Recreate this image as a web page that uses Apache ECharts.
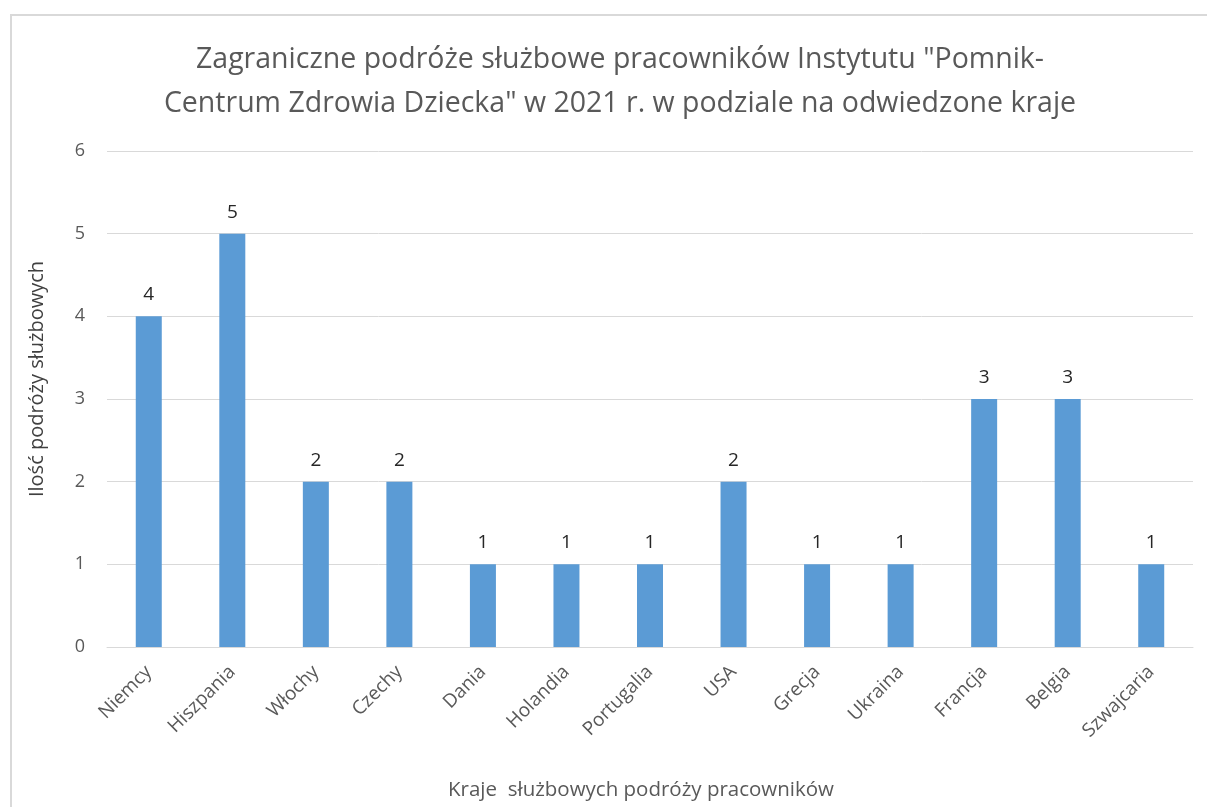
<!DOCTYPE html>
<html>
<head>
<meta charset="utf-8">
<script src="https://cdn.jsdelivr.net/npm/echarts@6/dist/echarts.min.js"></script>
<style>
html,body{margin:0;padding:0;background:#fff;}
#frame{position:absolute;left:10px;top:14px;width:1300px;height:900px;border-top:2px solid #d9d9d9;border-left:2px solid #d9d9d9;}
#chart{position:absolute;left:0;top:0;width:1207px;height:807px;}
</style>
</head>
<body>
<div id="frame"></div>
<div id="chart"></div>
<script>
const titleText = 'Zagraniczne podróże służbowe pracowników Instytutu "Pomnik-\nCentrum Zdrowia Dziecka" w 2021 r. w podziale na odwiedzone kraje';
const categories = ['Niemcy','Hiszpania','Włochy','Czechy','Dania','Holandia','Portugalia','USA','Grecja','Ukraina','Francja','Belgia','Szwajcaria'];
const values = [4,5,2,2,1,1,1,2,1,1,3,3,1];
const yAxisName = 'Ilość podróży służbowych';
const xAxisName = 'Kraje  służbowych podróży pracowników';

const font = '"Open Sans", "Noto Sans", sans-serif';
const chart = echarts.init(document.getElementById('chart'), null, {renderer:'canvas'});
chart.setOption({
  backgroundColor: 'transparent',
  animation: false,
  title: {
    text: titleText,
    left: 615, top: 33, textAlign: 'center',
    textStyle: {fontFamily: font, fontSize: 28.5, fontWeight: 'normal', color: '#595959', lineHeight: 44}
  },
  grid: {left: 107, right: 14, top: 151, bottom: 160, containLabel: false},
  xAxis: {
    type: 'category', data: categories,
    name: xAxisName, nameLocation: 'middle', nameGap: 133,
    nameTextStyle: {fontFamily: font, fontSize: 20.5, color: '#595959', padding: [0, 18, 0, 0]},
    axisLine: {lineStyle: {color: '#d9d9d9', width: 1}},
    axisTick: {show: false},
    axisLabel: {rotate: 45, interval: 0, fontFamily: font, fontSize: 19, color: '#595959', margin: 22}
  },
  yAxis: {
    type: 'value', min: 0, max: 6, interval: 1,
    name: yAxisName, nameLocation: 'middle', nameGap: 60,
    nameTextStyle: {fontFamily: font, fontSize: 20, color: '#404040', padding: [0, 0, 0, 40]},
    axisLine: {show: false}, axisTick: {show: false},
    axisLabel: {fontFamily: font, fontSize: 18, color: '#595959', margin: 22},
    splitLine: {lineStyle: {color: '#d9d9d9', width: 1}}
  },
  series: [{
    type: 'bar', data: values, barWidth: 26,
    itemStyle: {color: '#5b9bd5'},
    label: {show: true, position: 'top', distance: 12, fontFamily: font, fontSize: 19, color: '#262626'}
  }]
});
</script>
</body>
</html>
